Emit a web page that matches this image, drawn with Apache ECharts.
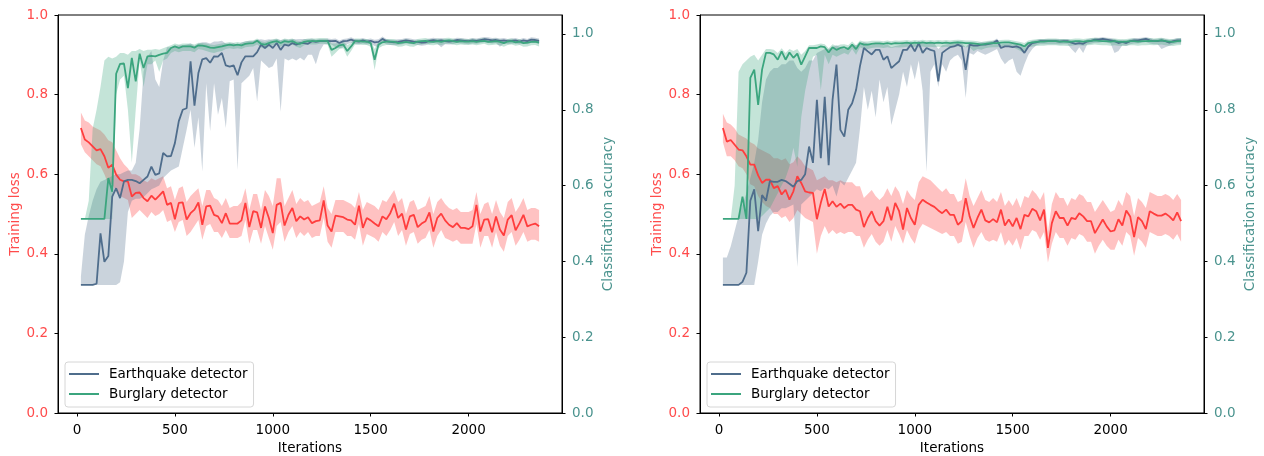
<!DOCTYPE html>
<html><head><meta charset="utf-8">
<script src="https://cdn.jsdelivr.net/npm/echarts@6/dist/echarts.min.js"></script>
<style>html,body{margin:0;padding:0;background:#fff}#c{width:1264px;height:456px}</style>
</head><body><div id="c"></div>
<script>
const iterations = [20,40,60,80,100,120,140,160,180,200,220,240,260,280,300,320,340,360,380,400,
420,440,460,480,500,520,540,560,580,600,620,640,660,680,700,720,740,760,780,800,
820,840,860,880,900,920,940,960,980,1000,1020,1040,1060,1080,1100,1120,1140,1160,1180,1200,
1220,1240,1260,1280,1300,1320,1340,1360,1380,1400,1420,1440,1460,1480,1500,1520,1540,1560,1580,1600,
1620,1640,1660,1680,1700,1720,1740,1760,1780,1800,1820,1840,1860,1880,1900,1920,1940,1960,1980,2000,
2020,2040,2060,2080,2100,2120,2140,2160,2180,2200,2220,2240,2260,2280,2300,2320,2340,2360];
const xTicks = [0,500,1000,1500,2000];
const lossTicks = [0,0.2,0.4,0.6,0.8,1.0];
const accTicks = [0,0.2,0.4,0.6,0.8,1.0];
const seriesNames = ['Earthquake detector','Burglary detector'];

// ---------- left panel ----------
const leftLossMean = [0.716,0.687,0.680,0.670,0.660,0.663,0.645,0.616,0.624,0.599,
0.586,0.582,0.582,0.544,0.553,0.554,0.540,0.532,0.546,0.536,
0.546,0.557,0.523,0.528,0.487,0.528,0.529,0.486,0.502,0.511,
0.529,0.473,0.519,0.521,0.498,0.494,0.477,0.502,0.476,0.476,
0.476,0.484,0.528,0.467,0.507,0.504,0.465,0.519,0.490,0.452,
0.523,0.528,0.471,0.498,0.515,0.482,0.494,0.486,0.492,0.477,
0.482,0.484,0.534,0.471,0.456,0.496,0.494,0.492,0.486,0.484,
0.473,0.521,0.465,0.490,0.484,0.476,0.469,0.494,0.487,0.502,
0.526,0.490,0.501,0.461,0.494,0.498,0.467,0.476,0.482,0.504,
0.456,0.490,0.501,0.484,0.473,0.467,0.477,0.465,0.465,0.462,
0.469,0.523,0.456,0.486,0.487,0.454,0.494,0.461,0.446,0.486,
0.497,0.459,0.477,0.498,0.469,0.473,0.476,0.469];
const leftLossUpper = [0.755,0.735,0.730,0.720,0.715,0.710,0.700,0.685,0.680,0.660,
0.640,0.625,0.615,0.600,0.600,0.595,0.585,0.580,0.590,0.585,
0.590,0.595,0.565,0.570,0.535,0.565,0.570,0.530,0.545,0.555,
0.565,0.520,0.560,0.560,0.540,0.535,0.520,0.540,0.515,0.520,
0.520,0.530,0.565,0.510,0.550,0.550,0.510,0.560,0.545,0.520,
0.590,0.590,0.520,0.540,0.560,0.525,0.540,0.530,0.535,0.520,
0.525,0.530,0.570,0.515,0.500,0.535,0.535,0.535,0.530,0.525,
0.515,0.555,0.510,0.530,0.525,0.520,0.510,0.535,0.530,0.545,
0.560,0.530,0.540,0.500,0.530,0.535,0.510,0.515,0.520,0.545,
0.500,0.530,0.540,0.525,0.515,0.510,0.515,0.505,0.505,0.505,
0.510,0.555,0.500,0.525,0.530,0.500,0.535,0.505,0.490,0.530,
0.540,0.505,0.520,0.540,0.510,0.515,0.515,0.510];
const leftLossLower = [0.675,0.655,0.645,0.635,0.625,0.620,0.600,0.575,0.575,0.555,
0.545,0.540,0.535,0.490,0.500,0.510,0.500,0.490,0.505,0.495,
0.500,0.510,0.480,0.485,0.455,0.480,0.485,0.445,0.455,0.470,
0.485,0.435,0.470,0.475,0.455,0.455,0.440,0.460,0.440,0.440,
0.440,0.445,0.485,0.425,0.460,0.460,0.425,0.470,0.440,0.410,
0.470,0.480,0.430,0.455,0.470,0.440,0.455,0.445,0.455,0.440,
0.445,0.445,0.490,0.430,0.415,0.455,0.455,0.455,0.445,0.445,
0.435,0.475,0.420,0.450,0.445,0.440,0.430,0.455,0.445,0.460,
0.480,0.445,0.460,0.420,0.450,0.455,0.425,0.435,0.440,0.460,
0.415,0.445,0.460,0.440,0.435,0.430,0.435,0.425,0.425,0.425,
0.425,0.475,0.415,0.445,0.445,0.415,0.455,0.420,0.405,0.445,
0.455,0.420,0.435,0.455,0.430,0.435,0.435,0.430];
const leftQuakeMean = [0.338,0.338,0.338,0.338,0.341,0.474,0.399,0.414,0.571,0.593,
0.567,0.611,0.615,0.615,0.612,0.606,0.615,0.624,0.650,0.628,
0.632,0.686,0.677,0.678,0.712,0.770,0.800,0.804,0.928,0.811,
0.897,0.933,0.936,0.924,0.941,0.940,0.950,0.917,0.914,0.917,
0.891,0.925,0.941,0.941,0.941,0.952,0.972,0.963,0.972,0.963,
0.976,0.958,0.972,0.969,0.976,0.972,0.976,0.976,0.974,0.981,
0.979,0.981,0.981,0.982,0.981,0.982,0.976,0.981,0.982,0.985,
0.981,0.980,0.983,0.980,0.982,0.978,0.979,0.987,0.981,0.979,
0.978,0.979,0.981,0.983,0.982,0.980,0.979,0.977,0.978,0.982,
0.984,0.982,0.983,0.981,0.980,0.981,0.984,0.983,0.982,0.981,
0.983,0.982,0.984,0.986,0.985,0.983,0.984,0.982,0.983,0.981,
0.982,0.983,0.980,0.983,0.981,0.985,0.984,0.982];
const leftQuakeUpper = [0.360,0.470,0.520,0.560,0.590,0.610,0.615,0.620,0.625,0.630,
0.630,0.635,0.640,0.640,0.660,0.750,0.900,0.940,0.955,0.880,
0.860,0.930,0.965,0.965,0.968,0.970,0.970,0.972,0.975,0.968,
0.975,0.978,0.978,0.975,0.980,0.980,0.982,0.975,0.975,0.976,
0.970,0.978,0.980,0.982,0.982,0.985,0.986,0.984,0.986,0.985,
0.987,0.984,0.986,0.985,0.987,0.986,0.987,0.987,0.986,0.988,
0.985,0.987,0.987,0.988,0.987,0.988,0.983,0.987,0.988,0.991,
0.987,0.986,0.989,0.986,0.988,0.985,0.986,0.993,0.987,0.985,
0.985,0.986,0.987,0.989,0.988,0.986,0.985,0.984,0.985,0.988,
0.990,0.988,0.989,0.987,0.986,0.987,0.990,0.989,0.988,0.987,
0.989,0.988,0.990,0.992,0.991,0.989,0.990,0.988,0.989,0.987,
0.988,0.989,0.986,0.989,0.987,0.991,0.990,0.988];
const leftQuakeLower = [0.338,0.338,0.338,0.338,0.338,0.338,0.338,0.338,0.338,0.338,
0.345,0.400,0.530,0.560,0.565,0.565,0.570,0.580,0.590,0.595,
0.600,0.620,0.630,0.640,0.645,0.650,0.699,0.747,0.800,0.700,
0.780,0.637,0.870,0.743,0.870,0.787,0.831,0.752,0.875,0.880,
0.641,0.870,0.880,0.890,0.910,0.822,0.930,0.920,0.910,0.915,
0.935,0.795,0.935,0.930,0.935,0.930,0.937,0.930,0.945,0.945,
0.920,0.955,0.972,0.973,0.972,0.965,0.962,0.965,0.973,0.977,
0.973,0.972,0.975,0.972,0.974,0.968,0.965,0.978,0.973,0.971,
0.970,0.971,0.973,0.975,0.974,0.972,0.971,0.969,0.970,0.974,
0.976,0.974,0.965,0.973,0.972,0.973,0.976,0.975,0.974,0.973,
0.975,0.974,0.976,0.978,0.977,0.975,0.976,0.966,0.975,0.973,
0.974,0.975,0.972,0.975,0.973,0.977,0.976,0.974];
const leftBurgMean = [0.512,0.512,0.512,0.512,0.512,0.512,0.512,0.620,0.584,0.895,
0.921,0.922,0.857,0.937,0.875,0.948,0.910,0.941,0.942,0.941,
0.945,0.948,0.950,0.963,0.967,0.963,0.967,0.967,0.967,0.964,
0.970,0.969,0.967,0.964,0.963,0.965,0.967,0.970,0.972,0.970,
0.972,0.970,0.974,0.975,0.976,0.982,0.974,0.972,0.976,0.979,
0.981,0.976,0.981,0.979,0.981,0.976,0.974,0.979,0.981,0.981,
0.981,0.982,0.982,0.981,0.958,0.963,0.970,0.972,0.955,0.967,
0.981,0.981,0.980,0.980,0.976,0.932,0.972,0.978,0.980,0.980,
0.979,0.976,0.977,0.979,0.977,0.976,0.980,0.981,0.982,0.980,
0.979,0.981,0.979,0.982,0.983,0.981,0.979,0.981,0.980,0.980,
0.981,0.979,0.981,0.982,0.979,0.980,0.981,0.979,0.976,0.980,
0.981,0.978,0.980,0.976,0.977,0.979,0.980,0.977];
const leftBurgUpper = [0.512,0.512,0.560,0.750,0.800,0.860,0.930,0.940,0.935,0.940,
0.950,0.950,0.945,0.955,0.955,0.960,0.955,0.958,0.958,0.960,
0.958,0.962,0.966,0.970,0.975,0.972,0.975,0.975,0.975,0.972,
0.977,0.976,0.975,0.972,0.971,0.973,0.975,0.977,0.979,0.977,
0.979,0.977,0.981,0.982,0.983,0.988,0.981,0.979,0.983,0.986,
0.988,0.983,0.988,0.986,0.988,0.983,0.981,0.986,0.988,0.988,
0.988,0.989,0.989,0.988,0.975,0.975,0.978,0.980,0.970,0.977,
0.988,0.988,0.987,0.987,0.983,0.960,0.980,0.985,0.987,0.987,
0.986,0.983,0.984,0.986,0.984,0.983,0.987,0.988,0.989,0.987,
0.986,0.988,0.986,0.989,0.990,0.988,0.986,0.988,0.987,0.987,
0.988,0.986,0.988,0.989,0.986,0.987,0.988,0.986,0.983,0.987,
0.988,0.985,0.987,0.983,0.984,0.986,0.987,0.984];
const leftBurgLower = [0.512,0.512,0.512,0.512,0.512,0.512,0.512,0.512,0.512,0.840,
0.880,0.890,0.800,0.660,0.800,0.930,0.860,0.920,0.920,0.930,
0.900,0.930,0.935,0.950,0.955,0.952,0.955,0.955,0.955,0.952,
0.960,0.958,0.955,0.952,0.950,0.953,0.955,0.960,0.962,0.960,
0.962,0.960,0.965,0.966,0.967,0.972,0.964,0.960,0.966,0.970,
0.972,0.966,0.972,0.970,0.972,0.966,0.963,0.970,0.972,0.972,
0.972,0.974,0.974,0.972,0.940,0.950,0.960,0.962,0.940,0.955,
0.972,0.972,0.971,0.971,0.966,0.905,0.962,0.968,0.971,0.971,
0.970,0.966,0.967,0.970,0.967,0.966,0.971,0.972,0.974,0.971,
0.970,0.972,0.970,0.974,0.975,0.972,0.970,0.972,0.971,0.971,
0.972,0.970,0.972,0.974,0.970,0.971,0.972,0.970,0.966,0.971,
0.972,0.969,0.971,0.966,0.967,0.970,0.971,0.967];

// ---------- right panel ----------
const rightLossMean = [0.716,0.682,0.686,0.674,0.662,0.660,0.645,0.624,0.624,0.597,
0.578,0.586,0.586,0.565,0.570,0.549,0.561,0.536,0.557,0.595,
0.578,0.557,0.554,0.553,0.487,0.528,0.563,0.519,0.532,0.518,
0.526,0.515,0.523,0.523,0.511,0.507,0.467,0.490,0.507,0.482,
0.471,0.482,0.518,0.484,0.528,0.507,0.461,0.515,0.490,0.473,
0.523,0.536,0.529,0.523,0.518,0.509,0.502,0.511,0.498,0.498,
0.473,0.482,0.540,0.494,0.465,0.490,0.511,0.484,0.479,0.487,
0.479,0.511,0.471,0.486,0.469,0.490,0.462,0.498,0.494,0.513,
0.507,0.484,0.511,0.415,0.477,0.507,0.490,0.490,0.471,0.490,
0.487,0.502,0.494,0.482,0.482,0.452,0.469,0.486,0.469,0.456,
0.459,0.487,0.471,0.509,0.494,0.442,0.492,0.482,0.462,0.507,
0.501,0.496,0.496,0.501,0.494,0.484,0.504,0.482];
const rightLossUpper = [0.752,0.730,0.725,0.715,0.700,0.695,0.690,0.680,0.675,0.665,
0.660,0.655,0.650,0.640,0.640,0.635,0.640,0.625,0.630,0.645,
0.635,0.620,0.615,0.610,0.585,0.590,0.595,0.585,0.585,0.580,
0.585,0.580,0.580,0.580,0.570,0.570,0.540,0.550,0.560,0.545,
0.535,0.545,0.565,0.545,0.570,0.555,0.525,0.560,0.545,0.535,
0.580,0.595,0.590,0.585,0.575,0.565,0.555,0.565,0.550,0.550,
0.530,0.535,0.590,0.545,0.520,0.540,0.560,0.535,0.530,0.540,
0.530,0.555,0.520,0.535,0.520,0.540,0.515,0.545,0.540,0.560,
0.550,0.535,0.555,0.455,0.525,0.555,0.540,0.540,0.520,0.540,
0.535,0.550,0.545,0.530,0.530,0.505,0.520,0.535,0.520,0.505,
0.510,0.535,0.520,0.555,0.545,0.495,0.540,0.530,0.515,0.555,
0.550,0.545,0.545,0.550,0.545,0.535,0.550,0.535];
const rightLossLower = [0.680,0.645,0.645,0.635,0.620,0.615,0.600,0.575,0.570,0.545,
0.530,0.520,0.515,0.500,0.500,0.490,0.495,0.480,0.490,0.510,
0.500,0.490,0.485,0.480,0.400,0.445,0.470,0.450,0.460,0.450,
0.455,0.450,0.455,0.455,0.445,0.445,0.415,0.435,0.450,0.430,
0.420,0.430,0.460,0.430,0.470,0.450,0.425,0.460,0.440,0.425,
0.460,0.475,0.470,0.465,0.460,0.455,0.450,0.455,0.445,0.445,
0.425,0.430,0.480,0.445,0.415,0.440,0.455,0.435,0.430,0.435,
0.430,0.455,0.420,0.435,0.420,0.440,0.410,0.445,0.445,0.460,
0.455,0.435,0.455,0.378,0.425,0.455,0.440,0.440,0.420,0.440,
0.435,0.450,0.445,0.430,0.430,0.400,0.420,0.435,0.420,0.410,
0.410,0.435,0.420,0.455,0.445,0.395,0.440,0.430,0.415,0.455,
0.450,0.445,0.445,0.450,0.445,0.435,0.450,0.430];
const rightQuakeMean = [0.338,0.338,0.338,0.338,0.338,0.346,0.370,0.560,0.590,0.480,
0.575,0.560,0.612,0.610,0.610,0.615,0.612,0.605,0.597,0.612,
0.615,0.630,0.703,0.660,0.826,0.672,0.834,0.654,0.826,0.919,
0.747,0.729,0.800,0.817,0.852,0.915,0.963,0.954,0.946,0.958,
0.958,0.932,0.941,0.910,0.919,0.928,0.958,0.958,0.972,0.954,
0.976,0.950,0.963,0.958,0.955,0.875,0.950,0.958,0.965,0.967,
0.972,0.967,0.905,0.972,0.969,0.969,0.972,0.972,0.974,0.976,
0.983,0.963,0.967,0.967,0.965,0.967,0.963,0.950,0.967,0.976,
0.978,0.981,0.981,0.981,0.981,0.981,0.980,0.981,0.981,0.977,
0.974,0.976,0.974,0.980,0.982,0.985,0.985,0.987,0.985,0.983,
0.981,0.976,0.979,0.976,0.981,0.983,0.983,0.985,0.987,0.983,
0.981,0.981,0.983,0.981,0.977,0.981,0.983,0.983];
const rightQuakeUpper = [0.410,0.410,0.440,0.480,0.520,0.550,0.580,0.620,0.660,0.720,
0.820,0.880,0.900,0.910,0.910,0.920,0.920,0.930,0.930,0.910,
0.900,0.910,0.930,0.930,0.950,0.955,0.960,0.960,0.965,0.970,
0.965,0.960,0.965,0.970,0.970,0.975,0.978,0.975,0.970,0.975,
0.975,0.970,0.972,0.965,0.968,0.970,0.975,0.976,0.980,0.975,
0.982,0.975,0.978,0.976,0.975,0.960,0.970,0.972,0.975,0.978,
0.980,0.975,0.965,0.978,0.976,0.976,0.978,0.978,0.980,0.982,
0.988,0.972,0.975,0.975,0.973,0.975,0.972,0.962,0.975,0.982,
0.984,0.987,0.987,0.987,0.987,0.987,0.986,0.987,0.987,0.983,
0.981,0.982,0.981,0.986,0.988,0.990,0.990,0.992,0.990,0.989,
0.987,0.983,0.985,0.983,0.987,0.989,0.989,0.990,0.992,0.989,
0.987,0.987,0.989,0.987,0.984,0.987,0.989,0.989];
const rightQuakeLower = [0.338,0.338,0.338,0.338,0.338,0.338,0.338,0.338,0.338,0.400,
0.470,0.500,0.520,0.530,0.530,0.540,0.540,0.545,0.550,0.386,
0.550,0.560,0.570,0.580,0.590,0.585,0.595,0.590,0.600,0.571,
0.610,0.600,0.620,0.640,0.660,0.750,0.860,0.800,0.850,0.780,
0.880,0.820,0.860,0.760,0.800,0.840,0.900,0.860,0.920,0.880,
0.930,0.850,0.637,0.900,0.920,0.860,0.920,0.900,0.930,0.940,
0.945,0.930,0.831,0.950,0.945,0.955,0.950,0.945,0.950,0.955,
0.960,0.935,0.920,0.930,0.935,0.900,0.890,0.920,0.945,0.960,
0.970,0.973,0.973,0.973,0.973,0.973,0.972,0.973,0.973,0.960,
0.950,0.965,0.950,0.972,0.974,0.977,0.977,0.979,0.977,0.975,
0.950,0.955,0.970,0.968,0.973,0.975,0.975,0.977,0.979,0.975,
0.973,0.973,0.960,0.965,0.969,0.973,0.975,0.975];
const rightBurgMean = [0.512,0.512,0.512,0.512,0.512,0.571,0.512,0.884,0.906,0.813,
0.906,0.950,0.950,0.946,0.932,0.954,0.932,0.951,0.937,0.948,
0.919,0.941,0.963,0.963,0.963,0.967,0.965,0.951,0.965,0.958,
0.963,0.965,0.960,0.972,0.960,0.976,0.972,0.972,0.974,0.975,
0.975,0.974,0.976,0.974,0.976,0.975,0.976,0.977,0.975,0.977,
0.976,0.978,0.976,0.977,0.976,0.977,0.976,0.977,0.976,0.977,
0.978,0.977,0.976,0.976,0.975,0.974,0.972,0.974,0.975,0.976,
0.976,0.977,0.978,0.978,0.976,0.974,0.972,0.967,0.976,0.978,
0.979,0.980,0.980,0.981,0.981,0.981,0.980,0.980,0.979,0.980,
0.981,0.981,0.980,0.981,0.982,0.983,0.982,0.981,0.981,0.980,
0.981,0.980,0.979,0.980,0.981,0.981,0.980,0.981,0.981,0.982,
0.981,0.982,0.983,0.981,0.980,0.979,0.981,0.982];
const rightBurgUpper = [0.512,0.512,0.512,0.600,0.900,0.920,0.930,0.940,0.945,0.930,
0.945,0.960,0.960,0.958,0.950,0.962,0.950,0.960,0.955,0.960,
0.945,0.955,0.970,0.970,0.972,0.975,0.973,0.962,0.973,0.968,
0.972,0.973,0.970,0.980,0.970,0.983,0.980,0.980,0.982,0.982,
0.982,0.981,0.983,0.981,0.983,0.982,0.983,0.984,0.982,0.984,
0.983,0.985,0.983,0.984,0.983,0.984,0.983,0.984,0.983,0.984,
0.985,0.984,0.983,0.983,0.982,0.981,0.979,0.981,0.982,0.983,
0.983,0.984,0.985,0.985,0.983,0.981,0.979,0.976,0.983,0.985,
0.986,0.987,0.987,0.988,0.988,0.988,0.987,0.987,0.986,0.987,
0.988,0.988,0.987,0.988,0.989,0.990,0.989,0.988,0.988,0.987,
0.988,0.987,0.986,0.987,0.988,0.988,0.987,0.988,0.988,0.989,
0.988,0.989,0.990,0.988,0.987,0.986,0.988,0.989];
const rightBurgLower = [0.512,0.512,0.512,0.512,0.512,0.512,0.512,0.512,0.512,0.512,
0.520,0.530,0.540,0.560,0.580,0.600,0.620,0.650,0.700,0.650,
0.780,0.850,0.900,0.940,0.945,0.852,0.945,0.920,0.945,0.940,
0.945,0.950,0.945,0.960,0.945,0.965,0.960,0.960,0.963,0.964,
0.964,0.963,0.965,0.963,0.965,0.964,0.965,0.966,0.964,0.966,
0.965,0.967,0.965,0.966,0.965,0.966,0.965,0.966,0.965,0.966,
0.967,0.966,0.965,0.965,0.955,0.960,0.958,0.962,0.964,0.965,
0.965,0.966,0.967,0.967,0.965,0.960,0.955,0.950,0.965,0.967,
0.968,0.969,0.969,0.970,0.970,0.970,0.969,0.969,0.968,0.969,
0.970,0.970,0.969,0.970,0.971,0.972,0.971,0.970,0.970,0.969,
0.970,0.969,0.968,0.969,0.970,0.970,0.969,0.970,0.970,0.971,
0.970,0.971,0.972,0.970,0.969,0.968,0.970,0.971];

// ---------- styling ----------
const FONT = 'DejaVu Sans';
const FS = 13.5;
const C_LOSS = '#ff3d3d', C_LOSS_BAND = 'rgba(255,70,70,0.33)';
const C_QUAKE = '#4f6d8c', C_QUAKE_BAND = 'rgba(79,109,140,0.30)';
const C_BURG = '#3ba57e', C_BURG_BAND = 'rgba(59,165,126,0.30)';
const C_LOSS_TXT = '#ff4b4b', C_ACC_TXT = '#4a938e';
const PLOT_W = 504, PLOT_H = 398, TOP = 15;
const LEFTS = [58, 700];

function pairs(ys){ return iterations.map((x,i)=>[x, ys[i]]); }

const grids = [], xAxes = [], yAxes = [], series = [], legends = [];
function panel(g, d){
  grids.push({left: LEFTS[g], top: TOP, width: PLOT_W, height: PLOT_H, show: true,
    borderColor: '#000', borderWidth: 1, backgroundColor: 'transparent',
    containLabel: false, outerBoundsMode: 'none'});
  xAxes.push({type:'value', gridIndex:g, min:-97, max:2477,
    name:'Iterations', nameLocation:'middle', nameGap:28,
    nameTextStyle:{fontFamily:FONT, fontSize:FS, color:'#000'},
    axisLine:{show:true, onZero:false, lineStyle:{color:'#000', width:1}},
    axisTick:{show:true, length:3.5, inside:false, customValues:xTicks, lineStyle:{color:'#000', width:1}},
    axisLabel:{customValues:xTicks, fontFamily:FONT, fontSize:FS, color:'#000', margin:10, formatter:v=>String(v)},
    splitLine:{show:false}});
  yAxes.push({type:'value', gridIndex:g, position:'left', min:0, max:1, interval:0.2,
    name:'Training loss', nameLocation:'middle', nameRotate:90, nameGap:36,
    nameTextStyle:{fontFamily:FONT, fontSize:FS, color:C_LOSS_TXT},
    axisLine:{show:true, onZero:false, lineStyle:{color:'#000', width:1}},
    axisTick:{show:true, length:3.5, inside:false, lineStyle:{color:'#000', width:1}},
    axisLabel:{fontFamily:FONT, fontSize:FS, color:C_LOSS_TXT, margin:10, formatter:v=>v.toFixed(1)},
    splitLine:{show:false}});
  yAxes.push({type:'value', gridIndex:g, position:'right', min:0, max:1.05,
    name:'Classification accuracy', nameLocation:'middle', nameRotate:90, nameGap:39,
    nameTextStyle:{fontFamily:FONT, fontSize:FS, color:C_ACC_TXT},
    axisLine:{show:true, onZero:false, lineStyle:{color:'#000', width:1}},
    axisTick:{show:true, length:3.5, inside:false, customValues:accTicks, lineStyle:{color:'#000', width:1}},
    axisLabel:{customValues:accTicks, fontFamily:FONT, fontSize:FS, color:C_ACC_TXT, margin:10, formatter:v=>v.toFixed(1)},
    splitLine:{show:false}});
  const yl = 2*g, yr = 2*g+1;
  function band(lo, hi, color, yi){
    series.push({type:'custom', coordinateSystem:'cartesian2d', xAxisIndex:g, yAxisIndex:yi,
      silent:true, animation:false, data:[[iterations[0], lo[0]]],
      renderItem:function(params, api){
        const pts = [];
        for (let i=0;i<iterations.length;i++) pts.push(api.coord([iterations[i], hi[i]]));
        for (let i=iterations.length-1;i>=0;i--) pts.push(api.coord([iterations[i], lo[i]]));
        return {type:'polygon', shape:{points:pts}, style:{fill:color, stroke:null}};
      }});
  }
  function line(name, ys, color, yi){
    series.push({type:'line', name:name, xAxisIndex:g, yAxisIndex:yi, data:pairs(ys),
      symbol:'none', showSymbol:false, silent:true, animation:false,
      itemStyle:{color:color}, lineStyle:{color:color, width:1.8}});
  }
  band(d.lossLo, d.lossHi, C_LOSS_BAND, yl);
  line('Training loss '+g, d.loss, C_LOSS, yl);
  band(d.quakeLo, d.quakeHi, C_QUAKE_BAND, yr);
  line(seriesNames[0], d.quake, C_QUAKE, yr);
  band(d.burgLo, d.burgHi, C_BURG_BAND, yr);
  line(seriesNames[1], d.burg, C_BURG, yr);
  legends.push({data:seriesNames, orient:'vertical', left:LEFTS[g]+7, top:362,
    icon:'rect', itemWidth:30, itemHeight:2, itemGap:6,
    padding:[5,6,6,4], backgroundColor:'rgba(255,255,255,0.8)',
    borderColor:'#d6d6d6', borderWidth:1, borderRadius:3, selectedMode:false,
    textStyle:{fontFamily:FONT, fontSize:FS, color:'#000', padding:[0,0,0,5]}});
}
panel(0, {loss:leftLossMean, lossLo:leftLossLower, lossHi:leftLossUpper,
  quake:leftQuakeMean, quakeLo:leftQuakeLower, quakeHi:leftQuakeUpper,
  burg:leftBurgMean, burgLo:leftBurgLower, burgHi:leftBurgUpper});
panel(1, {loss:rightLossMean, lossLo:rightLossLower, lossHi:rightLossUpper,
  quake:rightQuakeMean, quakeLo:rightQuakeLower, quakeHi:rightQuakeUpper,
  burg:rightBurgMean, burgLo:rightBurgLower, burgHi:rightBurgUpper});

const chart = echarts.init(document.getElementById('c'), null, {renderer:'canvas'});
chart.setOption({animation:false, backgroundColor:'#fff', textStyle:{fontFamily:FONT},
  grid:grids, xAxis:xAxes, yAxis:yAxes, legend:legends, series:series});
</script></body></html>
